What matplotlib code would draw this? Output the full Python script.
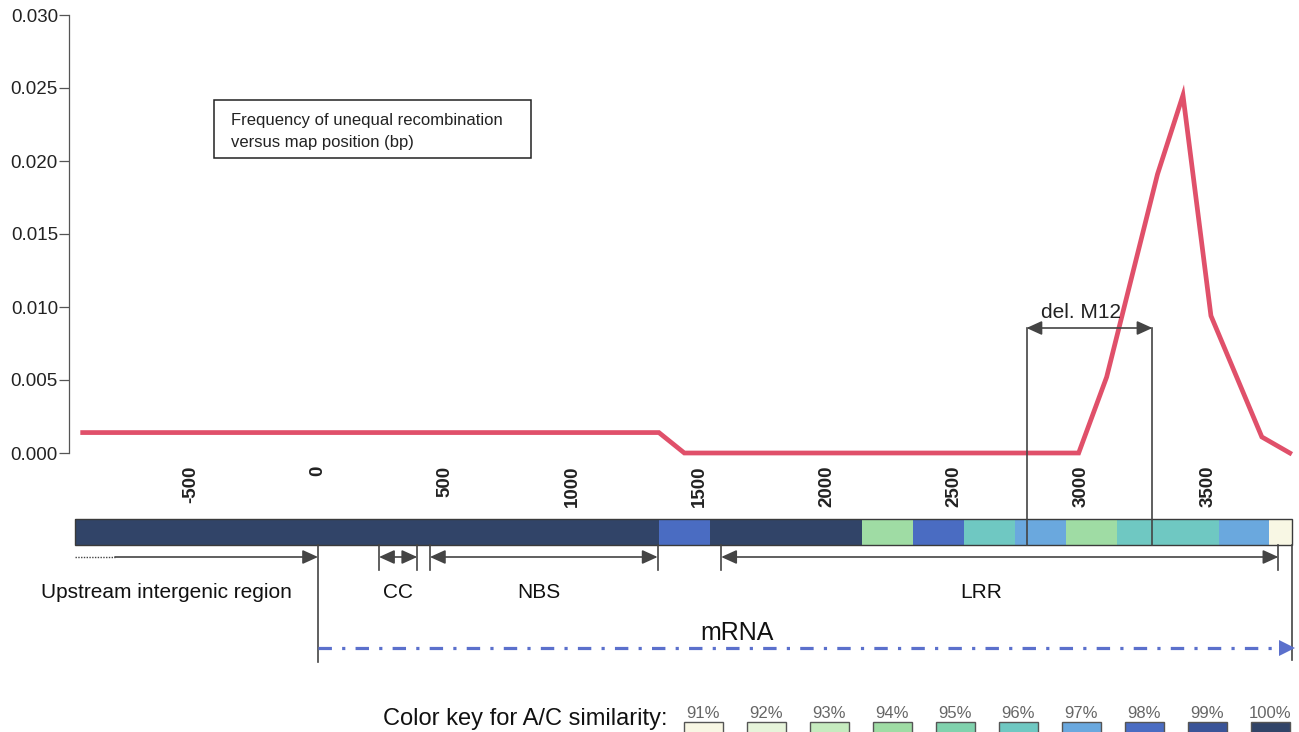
# =============================================================================
# Frequency of unequal recombination versus map position + gene map
# =============================================================================

import matplotlib
matplotlib.use("Agg")
import matplotlib.pyplot as plt
from matplotlib.patches import Rectangle

plt.rcParams["font.family"] = ["Liberation Sans", "DejaVu Sans"]

# =============================================================================
# DATA
# =============================================================================

# recombination frequency curve (bp, frequency)
curve_bp = [-925, 1340, 1440, 2990, 3100, 3300, 3400, 3510, 3710, 3820]
curve_freq = [0.0014, 0.0014, 0.0, 0.0, 0.0052, 0.0191, 0.0245, 0.0094, 0.0011, 0.0]

x_ticks = [-500, 0, 500, 1000, 1500, 2000, 2500, 3000, 3500]
y_ticks = [0.000, 0.005, 0.010, 0.015, 0.020, 0.025, 0.030]

# gene bar segments (boundaries in bp, A/C similarity per segment)
bar_edges = [-955, 1340, 1540, 2140, 2340, 2540, 2740, 2940, 3140, 3540, 3740, 3830]
bar_similarity = [100, 98, 100, 94, 98, 96, 97, 94, 96, 97, 91]

# color key
key_labels = [91, 92, 93, 94, 95, 96, 97, 98, 99, 100]
key_colors = ["#f8f7e4", "#e6f4da", "#c6ebbf", "#9fdca4", "#80d2ad",
              "#6fc8c2", "#6aa8de", "#4a6cc2", "#3a5498", "#314468"]

# domains (bp)
upstream_start = -955
upstream_dotted_end = -798
mrna_start = 0
mrna_end = 3830
cc_domain = (240, 390)
nbs_domain = (440, 1335)
lrr_domain = (1585, 3775)
del_m12 = (2785, 3280)

# =============================================================================
# LAYOUT HELPERS
# =============================================================================

W, H = 1299, 732
PX0 = 318           # pixel column of position 0 bp
PX_PER_BP = 0.2544

def bp_at(px):
    return (px - PX0) / PX_PER_BP

sim_color = dict(zip(key_labels, key_colors))
line_col = "#444444"

fig = plt.figure(figsize=(W / 100, H / 100), dpi=100)
fig.patch.set_facecolor("white")

# =============================================================================
# FREQUENCY PLOT
# =============================================================================

ax_left, ax_top, ax_bottom = 69, 15, 453
ax1 = fig.add_axes([ax_left / W, 1 - ax_bottom / H,
                    (W - ax_left) / W, (ax_bottom - ax_top) / H])
ax1.set_xlim(bp_at(ax_left), bp_at(W))
ax1.set_ylim(0, 0.030)
ax1.patch.set_alpha(0)

ax1.plot(curve_bp, curve_freq, color="#e0506a", lw=3.4,
         solid_joinstyle="miter", clip_on=False)

for s in ["top", "right", "bottom"]:
    ax1.spines[s].set_visible(False)
ax1.spines["left"].set_color("#555555")
ax1.spines["left"].set_linewidth(0.9)

ax1.set_yticks(y_ticks)
ax1.set_yticklabels([f"{v:.3f}" for v in y_ticks])
ax1.tick_params(axis="y", length=7, width=0.9, color="#555555",
                labelsize=13.5, labelcolor="#222222", pad=1)

ax1.set_xticks(x_ticks)
ax1.set_xticklabels([str(v) for v in x_ticks], rotation=90,
                    fontweight="bold", fontsize=13.5, color="#222222")
ax1.tick_params(axis="x", length=0, pad=9)

# =============================================================================
# GENE MAP OVERLAY (x in bp, y in pixels)
# =============================================================================

ax_map = fig.add_axes([0, 0, 1, 1])
ax_map.set_xlim(bp_at(0), bp_at(W))
ax_map.set_ylim(H, 0)
ax_map.axis("off")
ax_map.patch.set_alpha(0)

bar_top, bar_bot = 519, 545
lefts = bar_edges[:-1]
widths = [b - a for a, b in zip(bar_edges[:-1], bar_edges[1:])]
ax_map.barh(
    (bar_top + bar_bot) / 2, widths, left=lefts, height=bar_bot - bar_top,
    color=[sim_color[s] for s in bar_similarity], edgecolor="none"
)
ax_map.add_patch(Rectangle((bar_edges[0], bar_top), bar_edges[-1] - bar_edges[0],
                           bar_bot - bar_top, fill=False, ec="#3a3a3a", lw=1.0))

# vertical guide lines
ax_map.plot([mrna_start, mrna_start], [bar_bot, 662], color=line_col, lw=1.2)
ax_map.plot([mrna_end, mrna_end], [bar_bot, 660], color=line_col, lw=1.2)
for dom in [cc_domain, nbs_domain, lrr_domain]:
    for x in dom:
        ax_map.plot([x, x], [bar_bot, 570], color=line_col, lw=1.2)

arrow_y = 557
head = dict(color=line_col, lw=1.2, shrinkA=0, shrinkB=0,
            mutation_scale=17)
one_way = "-|>,head_length=0.55,head_width=0.25"
two_way = "<|-|>,head_length=0.55,head_width=0.25"

# upstream arrow
ax_map.plot([upstream_start, upstream_dotted_end], [arrow_y, arrow_y],
            color=line_col, lw=1.0, ls=(0, (1, 1)))
ax_map.annotate("", xy=(mrna_start, arrow_y), xytext=(upstream_dotted_end, arrow_y),
                arrowprops=dict(arrowstyle=one_way, **head))

# domain arrows
for dom in [cc_domain, nbs_domain, lrr_domain]:
    ax_map.annotate("", xy=(dom[1], arrow_y), xytext=(dom[0], arrow_y),
                    arrowprops=dict(arrowstyle=two_way, **head))

# del. M12
ax_map.plot([del_m12[0], del_m12[0]], [328, bar_bot], color=line_col, lw=1.2)
ax_map.plot([del_m12[1], del_m12[1]], [328, bar_bot], color=line_col, lw=1.2)
ax_map.annotate("", xy=(del_m12[1], 328), xytext=(del_m12[0], 328),
                arrowprops=dict(arrowstyle=two_way, **head))
ax_map.text(bp_at(1081), 313, "del. M12", ha="center", va="center",
            fontsize=15, color="#222222")

# region labels
label_y = 592
ax_map.text(bp_at(166), label_y, "Upstream intergenic region", ha="center",
            va="center", fontsize=15, color="#111111")
ax_map.text(sum(cc_domain) / 2, label_y, "CC", ha="center", va="center",
            fontsize=15, color="#111111")
ax_map.text(bp_at(539), label_y, "NBS", ha="center", va="center",
            fontsize=15, color="#111111")
ax_map.text(bp_at(981), label_y, "LRR", ha="center", va="center",
            fontsize=15, color="#111111")

# mRNA dash-dot arrow
mrna_y = 648
ax_map.plot([mrna_start, mrna_end - 45], [mrna_y, mrna_y], color="#5b70cc",
            lw=2.3, ls=(0, (4.2, 3.2, 1.0, 3.2)), dash_capstyle="butt")
ax_map.plot([mrna_end - 22], [mrna_y], marker=">", markersize=11,
            color="#5b70cc", markeredgewidth=0)
ax_map.text(bp_at(737), 633, "mRNA", ha="center", va="center",
            fontsize=18, color="#111111")

# =============================================================================
# LEGEND BOX AND COLOR KEY (pixel coordinates)
# =============================================================================

ax_px = fig.add_axes([0, 0, 1, 1])
ax_px.set_xlim(0, W)
ax_px.set_ylim(H, 0)
ax_px.axis("off")
ax_px.patch.set_alpha(0)

ax_px.add_patch(Rectangle((214, 100), 317, 58, fill=False, ec="#222222", lw=1.1))
ax_px.text(231, 120, "Frequency of unequal recombination", ha="left",
           va="center", fontsize=12, color="#222222")
ax_px.text(231, 142, "versus map position (bp)", ha="left",
           va="center", fontsize=12, color="#222222")

ax_px.text(383, 719, "Color key for A/C similarity:", ha="left",
           va="center", fontsize=17, color="#111111")

key_x0, key_step, key_w, key_top = 684, 63, 39, 722
for i, (lab, col) in enumerate(zip(key_labels, key_colors)):
    x = key_x0 + i * key_step
    ax_px.add_patch(Rectangle((x, key_top), key_w, 20, fc=col,
                              ec="#555555", lw=1.0, clip_on=True))
    ax_px.text(x + key_w / 2, key_top - 0.5, f"{lab}%", ha="center",
               va="bottom", fontsize=12, color="#666666")

fig.savefig("out.png", dpi=100)
